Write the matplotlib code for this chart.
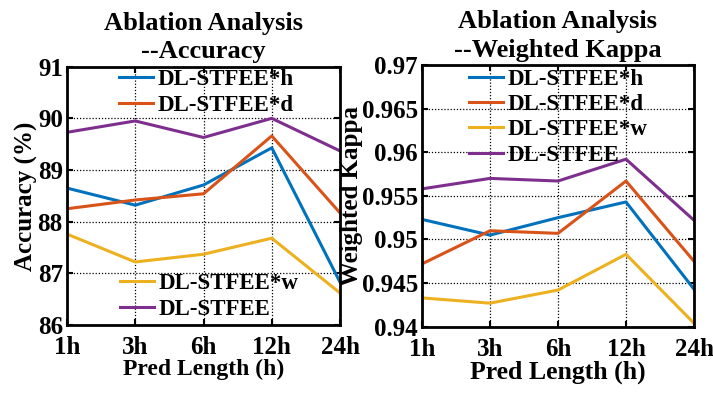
import matplotlib
matplotlib.use("Agg")
import matplotlib.pyplot as plt

plt.rcParams['font.family'] = ['Liberation Serif', 'DejaVu Serif']
plt.rcParams['font.weight'] = 'bold'

categories = ['1h', '3h', '6h', '12h', '24h']
labels = ['DL-STFEE*h', 'DL-STFEE*d', 'DL-STFEE*w', 'DL-STFEE']
colors = ['#0072BD', '#D95319', '#EDB120', '#7E2F8E']

acc_h = [88.65, 88.32, 88.71, 89.43, 86.83]
acc_d = [88.25, 88.42, 88.54, 89.66, 88.17]
acc_w = [87.76, 87.22, 87.37, 87.68, 86.62]
acc_full = [89.73, 89.95, 89.63, 90.00, 89.37]

kap_h = [0.9523, 0.9505, 0.9525, 0.9543, 0.9443]
kap_d = [0.9472, 0.9510, 0.9507, 0.9567, 0.9475]
kap_w = [0.9433, 0.9427, 0.9442, 0.9483, 0.9404]
kap_full = [0.9558, 0.9570, 0.9567, 0.9592, 0.9522]

acc_ticks = [86, 87, 88, 89, 90, 91]
kap_ticks = [0.94, 0.945, 0.95, 0.955, 0.96, 0.965, 0.97]
kap_ticklabels = ['0.94', '0.945', '0.95', '0.955', '0.96', '0.965', '0.97']

fig = plt.figure(figsize=(7.13, 3.94), dpi=100)
ax1 = fig.add_axes([67/713, 1-325/394, (340-67)/713, (325-66.7)/394])
ax2 = fig.add_axes([422/713, 1-326.7/394, (694-422)/713, (326.7-65)/394])

fs = 18
x = list(range(len(categories)))

def style(ax, xl_fs):
    ax.grid(True, linestyle=(0, (1, 1.5)), color='black', linewidth=0.9)
    ax.set_axisbelow(True)
    for s in ax.spines.values():
        s.set_linewidth(2)
    ax.tick_params(direction='in', length=4, width=1.5, top=True, right=True,
                   labelsize=fs, pad=3)
    ax.tick_params(axis='x', pad=8)
    ax.set_xticks(x)
    ax.set_xticklabels(categories, fontweight='bold')
    ax.set_xlim(0, len(categories) - 1)
    for t in ax.get_yticklabels():
        t.set_fontweight('bold')
    ax.set_xlabel('Pred Length (h)', fontsize=xl_fs, fontweight='bold', labelpad=0)

series1 = [acc_h, acc_d, acc_w, acc_full]
lines1 = []
for s, c, l in zip(series1, colors, labels):
    ln, = ax1.plot(x, s, color=c, lw=2.2, label=l)
    lines1.append(ln)
ax1.set_ylim(86, 91)
ax1.set_yticks(acc_ticks)
ax1.set_yticklabels([str(t) for t in acc_ticks])
style(ax1, 17)
ax1.set_ylabel('Accuracy (%)', fontsize=fs, fontweight='bold', labelpad=0)
ax1.set_title('Ablation Analysis\n--Accuracy', fontsize=19, fontweight='bold', pad=6, linespacing=1.3)

leg_kw = dict(frameon=False, handlelength=1.5, handletextpad=0.2,
              borderpad=0.1, prop={'weight': 'bold', 'size': 16.5})
legA = ax1.legend(lines1[:2], labels[:2], loc='center', bbox_to_anchor=(0.51, 0.90),
                  labelspacing=0.25, **leg_kw)
ax1.add_artist(legA)
ax1.legend(lines1[2:], labels[2:], loc='center', bbox_to_anchor=(0.52, 0.11),
           labelspacing=0.25, **leg_kw)

series2 = [kap_h, kap_d, kap_w, kap_full]
for s, c, l in zip(series2, colors, labels):
    ax2.plot(x, s, color=c, lw=2.2, label=l)
ax2.set_ylim(0.94, 0.97)
ax2.set_yticks(kap_ticks)
ax2.set_yticklabels(kap_ticklabels)
style(ax2, 18.5)
ax2.set_ylabel('Weighted Kappa', fontsize=fs, fontweight='bold', labelpad=-1)
ax2.set_title('Ablation Analysis\n--Weighted Kappa', fontsize=19, fontweight='bold', pad=6, linespacing=1.3)
ax2.legend(loc='center', bbox_to_anchor=(0.50, 0.80), labelspacing=0.18, **leg_kw)

fig.savefig('out.png', dpi=100)
